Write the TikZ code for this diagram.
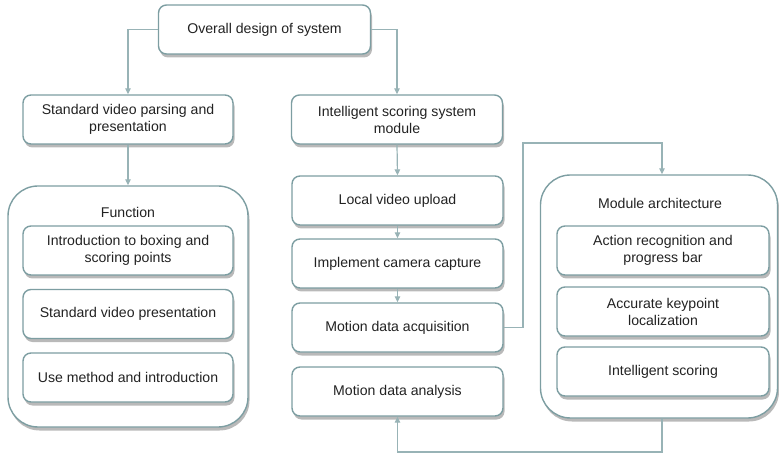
\documentclass[tikz,border=0pt]{standalone}
\usepackage{fontspec}
\setmainfont{Liberation Sans}
\usetikzlibrary{arrows.meta,shadows,positioning}
\definecolor{edge}{HTML}{7D9EA2}
\definecolor{wire}{HTML}{98B3B6}
\definecolor{ink}{HTML}{222222}
\tikzset{
  x=1pt, y=-1pt,
  shade box/.style={drop shadow={shadow xshift=1.5pt, shadow yshift=-3.5pt, fill=black!50, opacity=0.55}},
  item/.style={draw=edge, line width=1.4pt, fill=white, rounded corners=8pt,
    minimum width=210pt, minimum height=49pt, align=center, text=ink,
    font=\fontsize{14.1}{17}\selectfont, shade box},
  group/.style={draw=edge, line width=1.4pt, fill=white, rounded corners=30pt, shade box},
  grouplabel/.style={text=ink, font=\fontsize{14.1}{17}\selectfont},
  link/.style={draw=wire, line width=1.2pt},
  arrowlink/.style={link, -{Triangle[length=6pt,width=5.5pt]}},
}
\begin{document}
\begin{tikzpicture}
\useasboundingbox (0,0) rectangle (779,454);

% top level
\node[item, minimum width=212pt] (top) at (264.5,29.5) {Overall design of system};

% left branch
\node[item] (svp) at (128,119.5) {Standard video parsing and\\presentation};
\node[group, minimum width=240pt, minimum height=241pt] (func) at (128,306.5) {};
\node[grouplabel] (funclabel) at (128,212.5) {Function};
\node[item] (f1) at (128,250.5) {Introduction to boxing and\\scoring points};
\node[item] (f2) at (128,314) {Standard video presentation};
\node[item] (f3) at (128,377.5) {Use method and introduction};

% middle column
\node[item, minimum width=211pt] (iss) at (397,119.5) {Intelligent scoring system\\module};
\node[item, minimum width=211pt] (upl) at (397.5,200.5) {Local video upload};
\node[item, minimum width=211pt] (cam) at (397.5,263.5) {Implement camera capture};
\node[item, minimum width=211pt] (acq) at (397.5,327.5) {Motion data acquisition};
\node[item, minimum width=211pt] (ana) at (397.5,391.5) {Motion data analysis};

% module architecture group
\node[group, minimum width=237pt, minimum height=243pt] (mod) at (659,296.5) {};
\node[grouplabel] (modlabel) at (660,203.5) {Module architecture};
\node[item, minimum width=212pt] (m1) at (663,250.5) {Action recognition and\\progress bar};
\node[item, minimum width=212pt] (m2) at (663,311.5) {Accurate keypoint\\localization};
\node[item, minimum width=212pt] (m3) at (663,371.5) {Intelligent scoring};

% routing points
\coordinate (jr) at (523,327.5);
\coordinate (jt) at (523,143);
\coordinate (mt) at (662,143);
\coordinate (mb) at (662,452);
\coordinate (ab) at (397.5,452);

% connectors
\draw[arrowlink] (top.west) -| (svp.north);
\draw[arrowlink] (top.east) -| (iss.north);
\draw[arrowlink] (svp.south) -- (func.north);
\draw[arrowlink] (iss.south) -- (upl.north);
\draw[arrowlink] (upl.south) -- (cam.north);
\draw[arrowlink] (cam.south) -- (acq.north);
\draw[arrowlink] (acq.east) -- (jr) -- (jt) -- (mt) -- (mt |- mod.north);
\draw[arrowlink] (mt |- mod.south) -- (mb) -- (ab) -- (ana.south);
\end{tikzpicture}
\end{document}
